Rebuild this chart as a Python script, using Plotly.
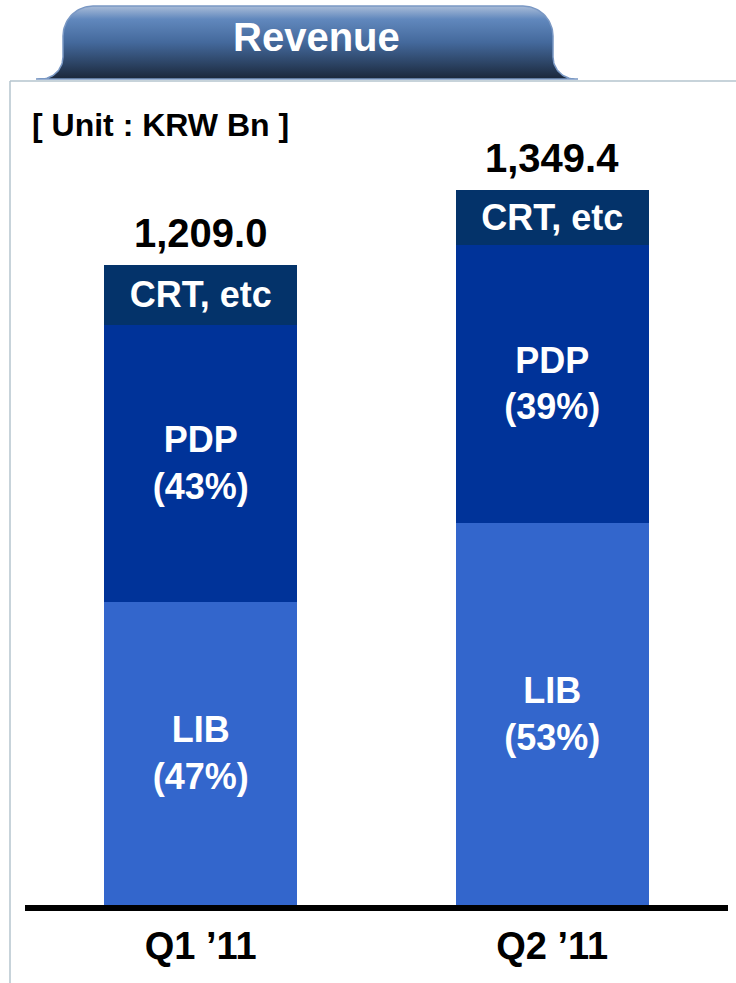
import numpy as np
import plotly.graph_objects as go

W, H = 736, 983

# ---------------- data ----------------
quarters = ["Q1 \u201911", "Q2 \u201911"]
lib = [572.5, 722.0]
pdp = [523.0, 525.0]
crt = [113.5, 102.4]
totals = [1209.0, 1349.4]
lib_share = ["47%", "53%"]
pdp_share = ["43%", "39%"]
crt_label = "CRT, etc"

FONT = "Liberation Sans, Arial, sans-serif"
C_LIB = "#3366CC"
C_PDP = "#003399"
C_CRT = "#04336A"

# plot-area placement in pixels
x_left, x_right = 25, 728
y_bottom, y_top = 905, 163.5
y_max = 1400

fig = go.Figure()

lbl_font = dict(family=FONT, size=36, color="white")

fig.add_trace(go.Bar(
    x=quarters, y=lib, marker=dict(color=C_LIB, line=dict(width=0)),
    text=[f"<b>LIB</b><br><b>({s})</b>" for s in lib_share],
    textposition="inside", insidetextanchor="middle", textangle=0,
    textfont=lbl_font, width=0.55, hoverinfo="skip",
))
fig.add_trace(go.Bar(
    x=quarters, y=pdp, marker=dict(color=C_PDP, line=dict(width=0)),
    text=[f"<b>PDP</b><br><b>({s})</b>" for s in pdp_share],
    textposition="inside", insidetextanchor="middle", textangle=0,
    textfont=lbl_font, width=0.55, hoverinfo="skip",
))
fig.add_trace(go.Bar(
    x=quarters, y=crt, marker=dict(color=C_CRT, line=dict(width=0)),
    text=[f"<b>{crt_label}</b>" for _ in quarters],
    textposition="inside", insidetextanchor="middle", textangle=0,
    textfont=lbl_font, width=0.55, hoverinfo="skip",
))

# ---------------- title tab (decoration in pixel space) ----------------
def arc(cx, cy, r, a0, a1, n=24):
    a = np.linspace(np.radians(a0), np.radians(a1), n)
    return list(cx + r * np.cos(a)), list(cy + r * np.sin(a))

px, py = [36], [79]
ax, ay = arc(41, 57, 22, 90, 0); px += ax; py += ay
ax, ay = arc(93, 36, 30, 180, 270); px += ax; py += ay
ax, ay = arc(523, 36, 30, 270, 360); px += ax; py += ay
ax, ay = arc(575, 57, 22, 180, 90); px += ax; py += ay
px += [578, 36]; py += [79, 79]

fig.add_trace(go.Scatter(
    x=px, y=py, xaxis="x2", yaxis="y2", mode="lines",
    line=dict(color="#7A98C4", width=1.5),
    fill="toself",
    fillgradient=dict(type="vertical", start=6, stop=79,
                      colorscale=[[0, "#A9BCD8"], [0.18, "#6188BD"],
                                  [0.5, "#44699C"], [0.8, "#2B4262"],
                                  [1, "#1B273A"]]),
    hoverinfo="skip", showlegend=False,
))

fig.update_layout(
    width=W, height=H, autosize=False,
    margin=dict(l=0, r=0, t=0, b=0),
    paper_bgcolor="white", plot_bgcolor="rgba(0,0,0,0)",
    barmode="stack", showlegend=False,
    font=dict(family=FONT),
    xaxis=dict(
        domain=[x_left / W, x_right / W], anchor="y",
        showline=True, linewidth=6, linecolor="black",
        showgrid=False, zeroline=False, ticks="",
        tickfont=dict(family=FONT, size=38, color="black"),
        tickvals=quarters, ticktext=[f"<b>{q}</b>" for q in quarters],
        ticklabelstandoff=2,
    ),
    yaxis=dict(
        domain=[1 - y_bottom / H, 1 - y_top / H], anchor="x",
        range=[0, y_max], visible=False, showgrid=False, zeroline=False,
    ),
    xaxis2=dict(domain=[0, 1], anchor="y2", range=[0, W], visible=False,
                fixedrange=True),
    yaxis2=dict(domain=[0, 1], anchor="x2", range=[H, 0], visible=False,
                fixedrange=True),
)

# totals above bars
for q, t in zip(quarters, totals):
    fig.add_annotation(
        x=q, y=t, xref="x", yref="y", text=f"<b>{t:,.1f}</b>",
        showarrow=False, yanchor="bottom", yshift=8,
        font=dict(family=FONT, size=40, color="black"),
    )

# tab title
fig.add_annotation(
    x=316 / W, y=1 - 37 / H, xref="paper", yref="paper",
    text="<b>Revenue</b>", showarrow=False,
    xanchor="center", yanchor="middle",
    font=dict(family=FONT, size=40, color="white"),
)

# unit label
fig.add_annotation(
    x=30 / W, y=1 - 125 / H, xref="paper", yref="paper",
    text="<b>[ Unit : KRW Bn ]</b>", showarrow=False,
    xanchor="left", yanchor="middle",
    font=dict(family=FONT, size=32, color="black"),
)

# panel border lines
border = "#B5C5CE"
fig.add_shape(type="line", xref="paper", yref="paper",
              x0=10 / W, x1=1, y0=1 - 81 / H, y1=1 - 81 / H,
              line=dict(color=border, width=1.5))
fig.add_shape(type="line", xref="paper", yref="paper",
              x0=10 / W, x1=10 / W, y0=1 - 81 / H, y1=0,
              line=dict(color=border, width=1.5))

fig.write_html(
    "out.html",
    config={"displayModeBar": False},
    post_script="document.body.style.margin='0';document.body.style.padding='0';",
)
